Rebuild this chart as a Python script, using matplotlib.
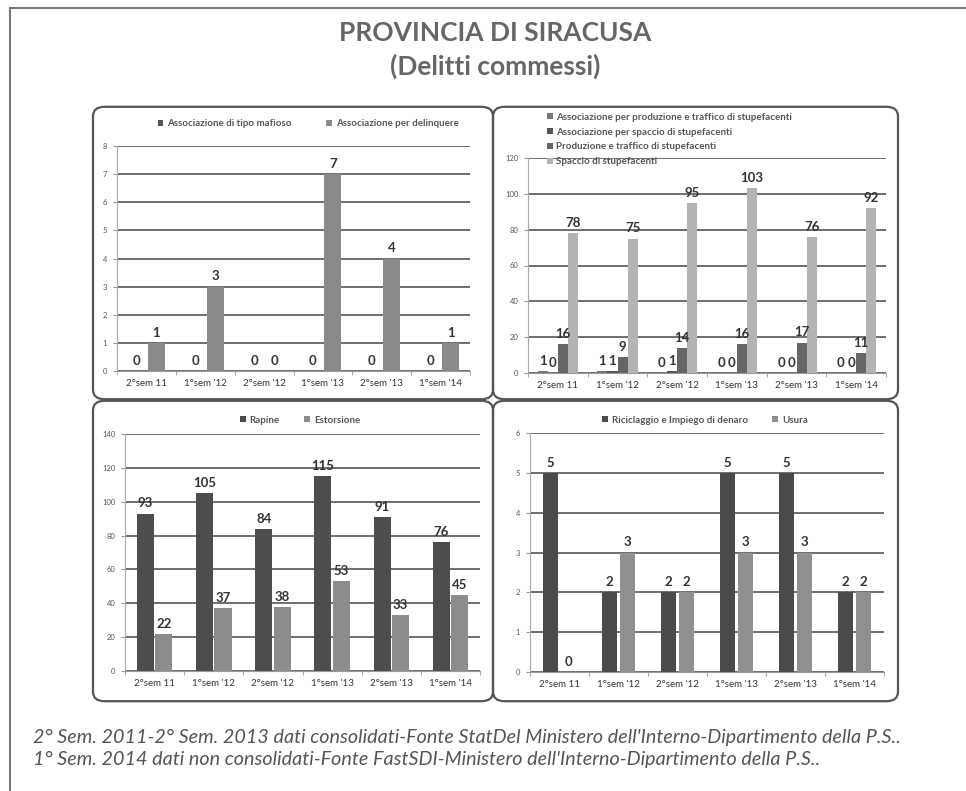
import matplotlib.pyplot as plt
import numpy as np
from matplotlib.patches import FancyBboxPatch
from matplotlib.lines import Line2D
from matplotlib import font_manager

categories = ["2°sem 11", "1°sem '12", "2°sem '12", "1°sem '13", "2°sem '13", "1°sem '14"]

# top-left panel
mafioso = [0, 0, 0, 0, 0, 0]
delinquere = [1, 3, 0, 7, 4, 1]

# top-right panel
assoc_traffico = [1, 1, 0, 0, 0, 0]
assoc_spaccio = [0, 1, 1, 0, 0, 0]
prod_traffico = [16, 9, 14, 16, 17, 11]
spaccio = [78, 75, 95, 103, 76, 92]

# bottom-left panel
rapine = [93, 105, 84, 115, 91, 76]
estorsione = [22, 37, 38, 53, 33, 45]

# bottom-right panel
riciclaggio = [5, 2, 2, 5, 5, 2]
usura = [0, 3, 2, 3, 3, 2]

title_lines = ["PROVINCIA DI SIRACUSA", "(Delitti commessi)"]
note_lines = [
    "2° Sem. 2011-2° Sem. 2013 dati consolidati-Fonte StatDel Ministero dell'Interno-Dipartimento della P.S..",
    "1° Sem. 2014 dati non consolidati-Fonte FastSDI-Ministero dell'Interno-Dipartimento della P.S..",
]

W, H = 966, 791


def pick_font(names):
    for n in names:
        try:
            font_manager.findfont(n, fallback_to_default=False)
            return n
        except Exception:
            pass
    return "DejaVu Sans"


FONT = pick_font(["Lato", "Open Sans", "DejaVu Sans"])
plt.rcParams['font.family'] = [FONT, 'DejaVu Sans']

fig = plt.figure(figsize=(W / 100, H / 100), dpi=100)
fig.patch.set_facecolor('white')


def fx(px):
    return px / W


def fy(py):
    return 1 - py / H


# page border (left and top)
fig.add_artist(Line2D([fx(10), fx(10)], [fy(8), fy(791)], color='#777777', lw=1.5))
fig.add_artist(Line2D([fx(10), fx(966)], [fy(8), fy(8)], color='#777777', lw=1.5))

# title
fig.text(fx(495), fy(33), title_lines[0], ha='center', va='center', fontsize=19,
         color='#666666', fontweight='bold')
fig.text(fx(495), fy(66), title_lines[1], ha='center', va='center', fontsize=19,
         color='#666666', fontweight='bold')

# rounded panel boxes
boxes = [(93, 106, 493, 400), (493, 106, 898, 400), (93, 400, 493, 702), (493, 400, 898, 702)]
for x0, y0, x1, y1 in boxes:
    fig.add_artist(FancyBboxPatch((fx(x0) + 0.006, fy(y1) + 0.007), fx(x1 - x0) - 0.012,
                                  (y1 - y0) / H - 0.014,
                                  boxstyle="round,pad=0.006,rounding_size=0.012",
                                  transform=fig.transFigure, facecolor='none',
                                  edgecolor='#555555', lw=1.6))


def panel(px, ymax, ystep, series, labels, colors, width, gap,
          legend_anchor, legend_ncol, legend_loc, legend_spacing=0.5, colspace=2.5):
    x0, y0, x1, y1 = px
    ax = fig.add_axes([fx(x0), fy(y1), fx(x1 - x0), (y1 - y0) / H])
    x = np.arange(len(categories))
    n = len(series)
    offs = (np.arange(n) - (n - 1) / 2) * (width + gap)
    handles = []
    for vals, lab, col, off in zip(series, labels, colors, offs):
        b = ax.bar(x + off, vals, width, color=col, label=lab, zorder=3)
        handles.append(b)
        for xi, v in zip(x + off, vals):
            ax.annotate(str(v), (xi, v), xytext=(0, 3), textcoords='offset points',
                        ha='center', va='bottom', fontsize=9.5, fontweight='bold',
                        color='#333333', zorder=4)
    ax.set_xlim(-0.5, len(categories) - 0.5)
    ax.set_ylim(0, ymax)
    ax.set_yticks(np.arange(0, ymax + ystep / 2, ystep))
    ax.yaxis.grid(True, color='#6e6e6e', lw=1.4, zorder=0)
    ax.set_axisbelow(True)
    ax.set_xticks(x)
    ax.set_xticklabels(categories, fontsize=7, color='#333333')
    ax.set_xticks(np.arange(-0.5, len(categories)), minor=True)
    ax.tick_params(axis='x', which='major', length=0, pad=6)
    ax.tick_params(axis='x', which='minor', length=3, color='#999999')
    ax.tick_params(axis='y', labelsize=5.5, labelcolor='#555555', length=3,
                   color='#999999', pad=4)
    for s in ['top', 'right']:
        ax.spines[s].set_visible(False)
    ax.spines['left'].set_color('#aaaaaa')
    ax.spines['bottom'].set_color('#999999')
    ax.patch.set_alpha(0)
    leg = fig.legend(handles=handles, loc=legend_loc, bbox_to_anchor=legend_anchor,
                     ncol=legend_ncol, frameon=False, fontsize=7, handlelength=0.6,
                     handleheight=0.6, handletextpad=0.4, columnspacing=colspace,
                     labelspacing=legend_spacing)
    for t in leg.get_texts():
        t.set_color('#555555')
        t.set_fontweight('bold')
    return ax


panel((117, 146, 470, 371), 8, 1, [mafioso, delinquere],
      ["Associazione di tipo mafioso", "Associazione per delinquere"],
      ['#555555', '#8a8a8a'], 0.29, 0.05,
      (fx(308), fy(124)), 2, 'center', colspace=3.5)

panel((528, 158, 886, 373), 120, 20, [assoc_traffico, assoc_spaccio, prod_traffico, spaccio],
      ["Associazione per produzione e traffico di stupefacenti",
       "Associazione per spaccio di stupefacenti",
       "Produzione e traffico di stupefacenti",
       "Spaccio di stupefacenti"],
      ['#777777', '#555555', '#666666', '#b3b3b3'], 0.17, 0.0,
      (fx(538), fy(104)), 1, 'upper left', 0.6)

panel((125, 434, 480, 671), 140, 20, [rapine, estorsione],
      ["Rapine", "Estorsione"],
      ['#4d4d4d', '#8c8c8c'], 0.29, 0.02,
      (fx(300), fy(420)), 2, 'center')

panel((530, 433, 884, 672), 6, 1, [riciclaggio, usura],
      ["Riciclaggio e Impiego di denaro", "Usura"],
      ['#4a4a4a', '#8f8f8f'], 0.26, 0.05,
      (fx(705), fy(420)), 2, 'center')

# source notes
for i, line in enumerate(note_lines):
    fig.text(fx(33), fy(737 + 22 * i), line, ha='left', va='center', fontsize=14.2,
             style='italic', color='#555555')

fig.savefig("out.png", dpi=100)
